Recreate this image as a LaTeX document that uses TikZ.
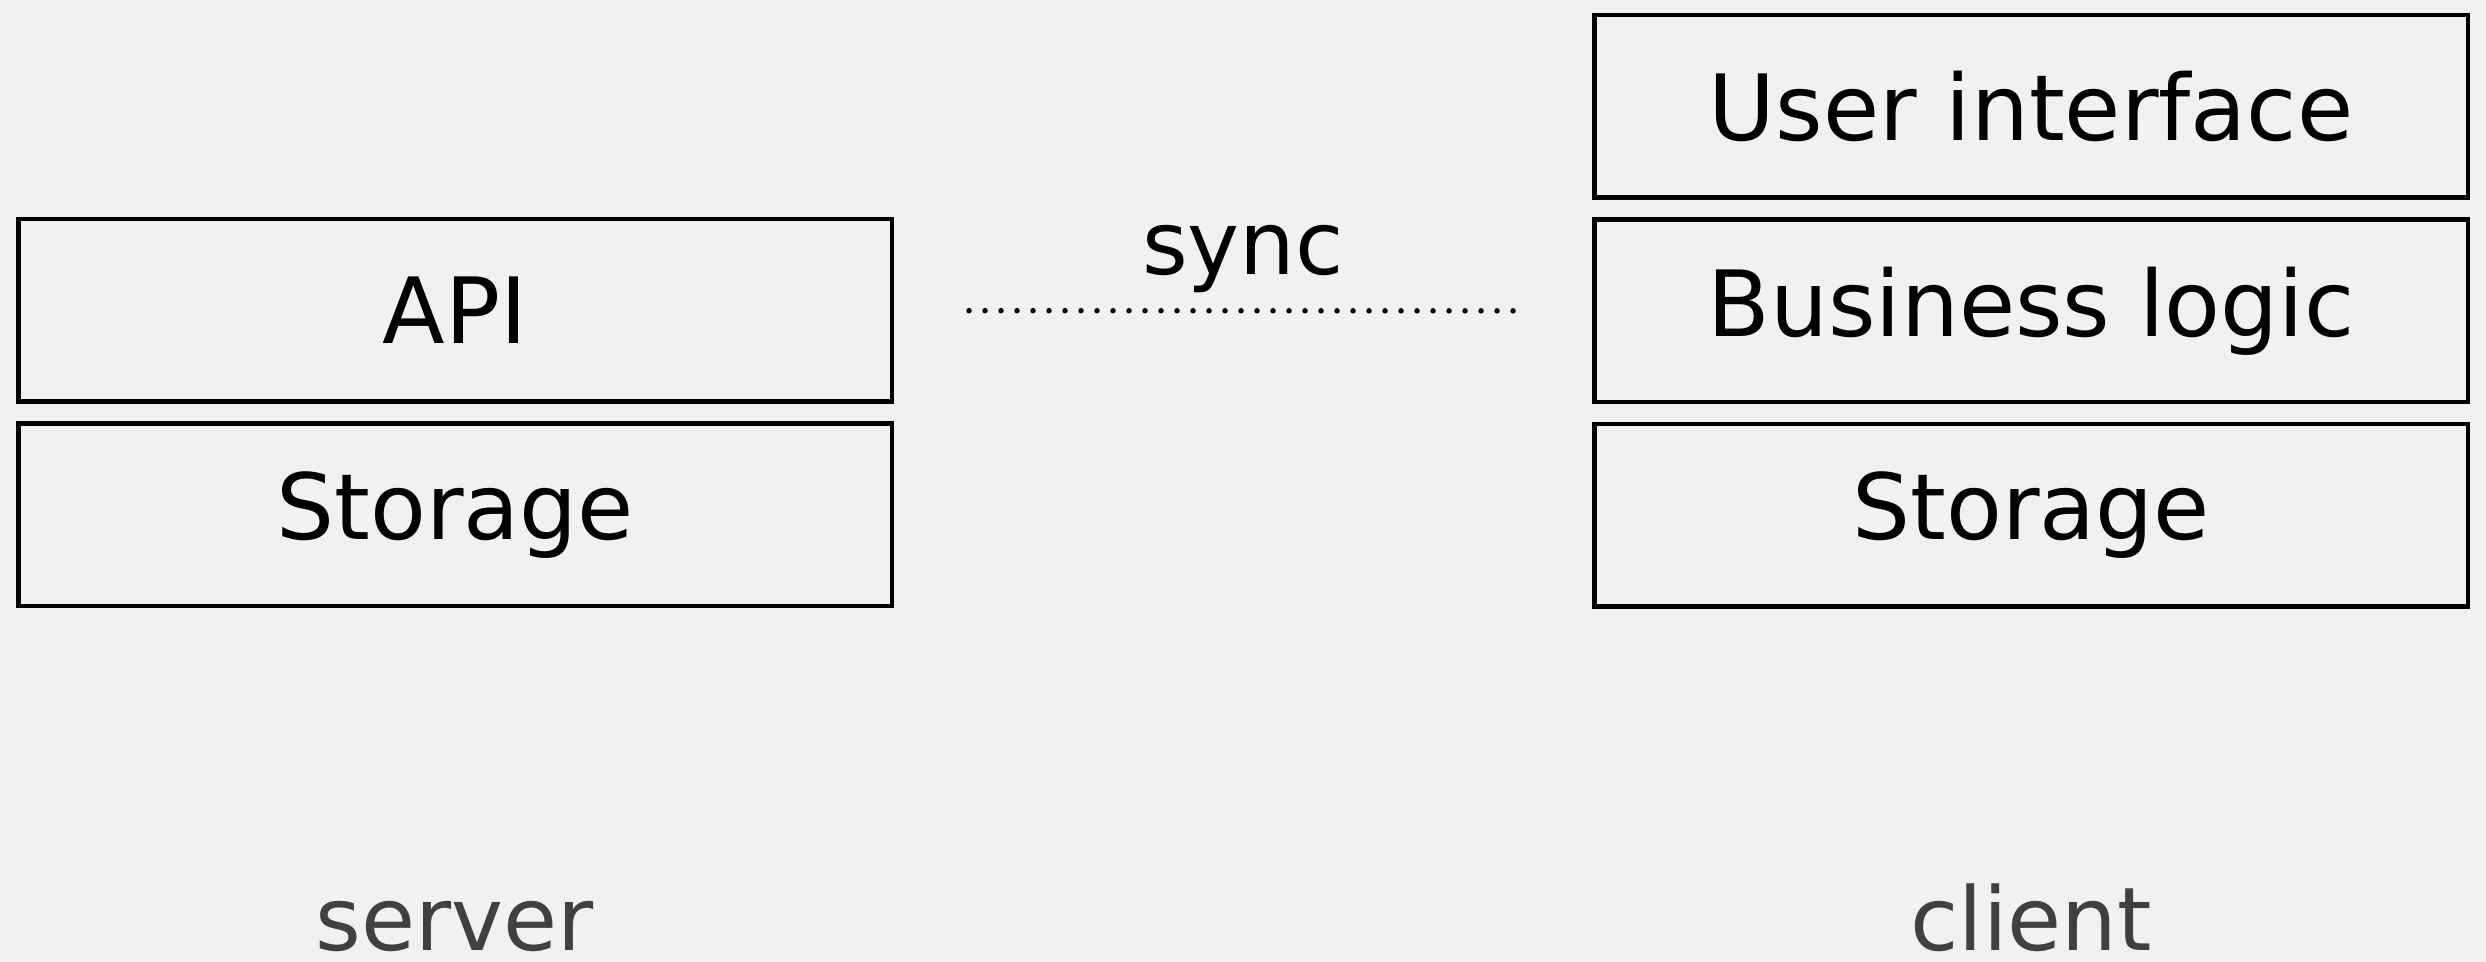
\documentclass[tikz,border=0pt]{standalone}
\usepackage{fontspec}
\setmainfont{DejaVu Sans}
\usetikzlibrary{positioning}

\definecolor{paper}{RGB}{241,241,241}
\definecolor{caption}{RGB}{64,64,64}

\begin{document}
\begin{tikzpicture}[
    layer/.style={draw, line width=0.45mm, minimum width=8.735cm, minimum height=1.825cm,
                  inner sep=0pt, font=\fontsize{26}{30}\selectfont},
    side/.style={anchor=base, inner sep=0pt, text=caption, font=\fontsize{25}{30}\selectfont},
    syncline/.style={line width=0.55mm, line cap=round, dash pattern=on 0pt off 1.6mm,
                     shorten <=7.5mm, shorten >=7.5mm}
]
    % Background
    \fill[paper] (0,0) rectangle (24.86,9.62);
    \useasboundingbox (0,0) rectangle (24.86,9.62);

    % Server stack
    \node[layer] (api) at (4.55,6.515) {API};
    \node[layer, below=0.175cm of api] (serverstore) {Storage};

    % Client stack
    \node[layer] (ui) at (20.31,8.555) {User interface};
    \node[layer, below=0.175cm of ui] (logic) {Business logic};
    \node[layer, below=0.175cm of logic] (clientstore) {Storage};

    % Sync between the two
    \draw[syncline] (api) -- (logic)
        node[midway, anchor=base, inner sep=0pt, yshift=3.6mm, font=\fontsize{25}{30}\selectfont] (sync) {sync};

    % Captions
    \node[side] (server) at ([yshift=-3.42cm]serverstore.south) {server};
    \node[side] (client) at ([yshift=-3.42cm]clientstore.south) {client};

\end{tikzpicture}
\end{document}
